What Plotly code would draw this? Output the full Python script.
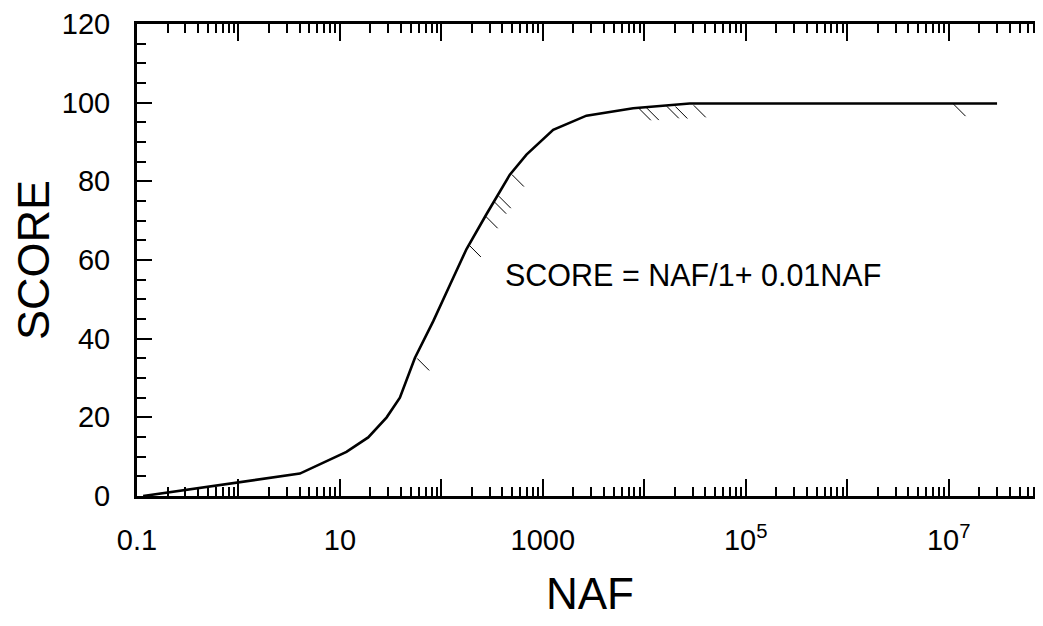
import math
import plotly.graph_objects as go

# ---- data ----
naf = [0.115, 4.03, 11.6, 19.0, 28.9, 39, 54.8, 83, 121, 177, 279, 473, 690,
       1265, 2690, 7770, 28000, 3.0e7]
score = [0, 5.7, 11.2, 14.9, 20.0, 25.0, 35.1, 44.4, 53.6, 62.8, 71.7, 81.7,
         86.8, 93.1, 96.7, 98.6, 99.8, 99.8]

hatch_naf = [0.156, 66.2, 214, 313, 380, 422, 568, 10120, 12130, 19100,
             23200, 35200, 1.28e7]
hatch_score = [-1.84, 33.45, 62.3, 69.6, 73.3, 74.7, 80.2, 97.05, 97.1,
               97.55, 97.5, 97.8, 98.1]

x_tick_values = [0.1, 1, 10, 100, 1000, 1e4, 1e5, 1e6, 1e7]
x_tick_labels = ["0.1", "", "10", "", "1000", "", "10<sup>5</sup>", "",
                 "10<sup>7</sup>"]
y_tick_values = [0, 20, 40, 60, 80, 100, 120]
y_tick_labels = ["0", "20", "40", "60", "80", "100", "120"]

equation_text = "SCORE = NAF/1+ 0.01NAF"
equation_naf = 404
equation_score = 56.3

FONT = "Liberation Sans, Arial, Helvetica, sans-serif"

x_minor = [m * 10.0 ** k for k in range(-1, 8) for m in range(2, 10)]

fig = go.Figure()
fig.add_trace(go.Scatter(
    x=naf, y=score, mode="lines",
    line=dict(color="black", width=2.6),
    showlegend=False, hoverinfo="skip",
))
fig.add_trace(go.Scatter(
    x=hatch_naf, y=hatch_score, mode="markers", yaxis="y2",
    marker=dict(symbol="line-nw", size=12, color="black",
                line=dict(color="black", width=1)),
    cliponaxis=False, showlegend=False, hoverinfo="skip",
))

fig.add_annotation(
    x=math.log10(equation_naf), y=equation_score, xref="x", yref="y",
    text=equation_text, showarrow=False, xanchor="left", yanchor="middle",
    font=dict(family=FONT, size=30.5, color="black"),
)

# the page body adds an 8px offset, so the figure is 8px smaller
fig.update_layout(
    width=1035, height=618,
    margin=dict(l=129, r=0, t=12, b=130),
    paper_bgcolor="white", plot_bgcolor="white",
    font=dict(family=FONT, color="black"),
    xaxis=dict(
        type="log", range=[-1, 7.93],
        showline=True, linecolor="black", linewidth=3, mirror="ticks",
        ticks="inside", ticklen=17, tickwidth=2, tickcolor="black",
        tickmode="array", tickvals=x_tick_values, ticktext=x_tick_labels,
        tickfont=dict(family=FONT, size=29, color="black"),
        ticklabelstandoff=16, ticklabeloverflow="allow",
        minor=dict(tickmode="array", tickvals=x_minor, ticks="inside",
                   ticklen=9, tickwidth=2, tickcolor="black", showgrid=False),
        showgrid=False, zeroline=False,
        title=dict(text="NAF", font=dict(family=FONT, size=44, color="black"),
                   standoff=24),
    ),
    yaxis=dict(
        range=[0, 120],
        showline=True, linecolor="black", linewidth=3,
        ticks="inside", ticklen=15, tickwidth=2, tickcolor="black",
        tickmode="array", tickvals=y_tick_values, ticktext=y_tick_labels,
        tickfont=dict(family=FONT, size=29, color="black"),
        ticklabelstandoff=18, ticklabeloverflow="allow",
        minor=dict(dtick=5, ticks="inside", ticklen=9, tickwidth=2,
                   tickcolor="black", showgrid=False),
        showgrid=False, zeroline=False,
        title=dict(text="SCORE", font=dict(family=FONT, size=45, color="black"),
                   standoff=8),
    ),
    yaxis2=dict(
        overlaying="y", matches="y", side="right", range=[0, 120],
        showline=False, ticks="inside", ticklen=8, tickwidth=2,
        tickcolor="black", tickvals=y_tick_values, showticklabels=False,
        showgrid=False, zeroline=False,
    ),
)

fig.write_html("out.html")
